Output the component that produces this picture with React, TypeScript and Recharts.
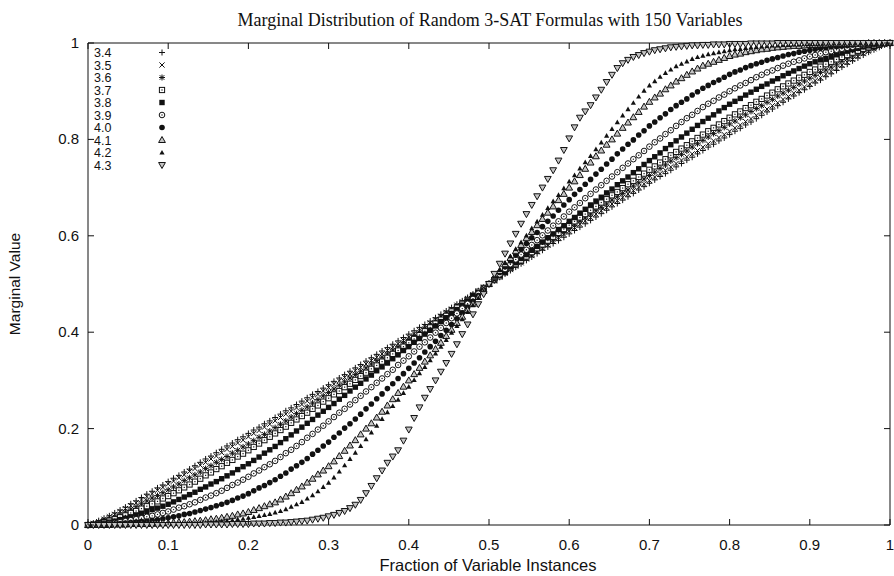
import React from "react";
import { ScatterChart, Scatter, XAxis, YAxis, ReferenceArea } from "recharts";

// clause/variable ratios, one series each
const ratios = ["3.4", "3.5", "3.6", "3.7", "3.8", "3.9", "4.0", "4.1", "4.2", "4.3"];

// sorted marginal values (x 1000), one point per 1/150 of the instances
const m34 = [0,4,9,14,19,25,31,37,44,50,57,64,70,77,83,90,97,103,110,116,123,130,137,143,150,157,164,170,177,183,190,197,203,210,216,223,230,237,243,250,257,264,271,277,284,291,298,305,312,319,326,333,340,347,354,361,368,375,382,389,396,403,410,416,423,430,437,444,451,458,465,472,479,486,493,500,
  507,514,521,528,535,542,549,556,563,570,577,584,590,597,604,611,618,625,632,639,646,653,660,667,674,681,688,695,702,709,716,723,729,736,743,750,757,763,770,777,784,790,797,803,810,817,823,830,836,843,850,857,863,870,877,884,890,897,903,910,917,923,930,936,943,950,956,963,969,975,981,986,991,996,1000];
const m35 = [0,3,7,12,17,22,28,34,40,46,52,59,65,72,78,85,91,98,104,111,117,124,130,137,143,150,157,163,170,176,183,190,196,203,209,216,223,230,236,243,250,257,264,271,278,285,292,299,306,313,320,327,334,341,348,355,362,369,376,383,390,397,404,412,419,426,433,441,448,456,463,470,478,485,493,500,
  507,515,522,530,537,544,552,559,567,574,581,588,596,603,610,617,624,631,638,645,652,659,666,673,680,687,694,701,708,715,722,729,736,743,750,757,764,770,777,784,791,797,804,810,817,824,830,837,843,850,857,863,870,876,883,889,896,902,909,915,922,928,935,941,948,954,960,966,972,978,983,988,993,997,1000];
const m36 = [0,2,5,8,12,17,22,27,33,38,44,50,56,61,67,73,79,85,92,98,104,110,117,123,130,136,142,149,155,162,168,175,182,188,195,202,209,216,224,231,238,245,253,260,268,275,282,290,297,305,312,319,326,334,341,348,355,363,370,378,385,393,400,408,415,423,431,438,446,453,461,469,477,484,492,500,
  508,516,523,531,539,547,554,562,569,577,585,592,600,607,615,622,630,637,645,652,659,666,674,681,688,695,703,710,718,725,732,740,747,755,762,769,776,784,791,798,805,812,818,825,832,838,845,851,858,864,870,877,883,890,896,902,908,915,921,927,933,939,944,950,956,962,967,973,978,983,988,992,995,998,1000];
const m37 = [0,1,3,6,9,12,16,20,25,29,34,39,44,49,55,60,66,72,78,84,90,96,103,109,116,122,129,135,142,148,155,162,169,176,183,190,197,204,212,219,226,233,241,248,256,263,271,278,286,293,301,309,316,324,331,339,347,355,362,370,378,386,394,402,410,418,426,434,443,451,459,467,475,484,492,500,
  508,516,525,533,541,549,557,566,574,582,590,598,606,614,622,630,638,645,653,661,669,676,684,691,699,707,714,722,729,737,744,752,759,767,774,781,788,796,803,810,817,824,831,838,845,852,858,865,871,878,884,891,897,904,910,916,922,928,934,940,945,951,956,961,966,971,975,980,984,988,991,994,997,999,1000];
const m38 = [0,1,2,4,6,8,11,14,17,21,24,28,32,35,39,43,48,53,58,63,68,74,79,85,90,96,102,108,115,121,127,134,141,149,156,163,171,179,187,195,203,211,219,228,236,244,252,261,269,278,286,294,303,311,320,328,336,345,353,362,370,379,387,396,404,413,422,430,439,447,456,465,474,482,491,500,
  509,518,526,535,544,553,561,570,578,587,596,604,613,621,630,638,647,655,664,672,680,689,697,706,714,722,731,739,748,756,764,772,781,789,797,805,813,821,829,837,844,851,859,866,873,879,885,892,898,904,910,915,921,926,932,937,942,947,952,957,961,965,968,972,976,979,983,986,989,992,994,996,998,999,1000];
const m39 = [0,0,1,2,3,4,6,8,10,12,14,17,19,22,25,28,32,36,39,43,47,52,57,61,66,71,77,83,88,94,100,107,113,120,126,133,141,149,156,164,172,181,189,198,206,215,224,233,241,250,259,268,277,286,295,304,313,322,332,341,350,360,370,379,389,399,409,419,429,439,449,459,469,480,490,500,
  510,520,531,541,551,561,571,581,591,601,611,621,630,640,650,659,668,678,687,696,705,714,723,732,741,750,759,767,776,785,794,802,811,819,828,836,844,851,859,867,874,880,887,893,900,906,912,917,923,929,934,939,943,948,953,957,961,964,968,972,975,978,981,983,986,988,990,992,994,996,997,998,999,1000,1000];
const m40 = [0,0,1,1,2,2,3,4,5,6,7,8,10,11,13,15,17,19,22,24,27,30,33,36,40,43,47,51,56,60,65,71,77,82,88,94,101,108,116,123,130,138,147,155,164,172,182,191,201,210,220,230,241,251,262,272,283,293,304,314,325,336,347,359,370,381,393,404,416,428,440,452,464,476,488,500,
  512,524,536,548,560,572,584,596,607,619,630,641,653,664,675,686,696,707,717,728,738,749,759,770,780,790,799,809,818,828,836,845,853,862,870,877,884,892,899,906,912,918,923,929,935,940,944,949,953,957,960,964,967,970,973,976,978,981,983,985,987,989,990,992,993,994,995,996,997,998,998,999,999,1000,1000];
const m41 = [0,0,0,0,0,1,1,1,2,2,2,2,3,3,4,4,5,6,6,7,8,9,10,12,13,15,17,19,22,24,27,31,35,39,43,47,53,59,66,73,80,88,96,105,113,122,132,143,154,165,176,188,200,211,223,235,248,261,274,287,300,313,326,339,352,365,378,392,405,419,432,446,459,473,486,500,
  514,527,541,554,568,581,595,608,622,635,648,661,674,687,700,713,726,739,752,765,777,789,800,812,824,835,846,857,868,878,887,895,904,912,920,927,934,941,947,953,957,961,965,969,973,976,978,981,983,985,987,988,990,991,992,993,994,994,995,996,996,997,997,998,998,998,998,999,999,999,1000,1000,1000,1000,1000];
const m42 = [0,0,0,0,0,0,0,0,1,1,1,1,1,2,2,2,2,3,3,4,4,5,5,6,7,8,9,10,12,13,15,17,19,21,23,26,29,33,38,43,48,55,62,70,79,88,99,111,124,137,150,164,178,192,206,220,234,247,260,274,287,301,315,328,342,356,370,384,399,413,427,442,456,471,485,500,
  515,529,544,558,573,587,601,616,630,644,658,672,685,699,713,726,740,753,766,780,794,808,822,836,850,863,876,889,901,912,921,930,938,945,952,957,962,967,971,974,977,979,981,983,985,987,988,990,991,992,993,994,995,995,996,996,997,997,998,998,998,998,999,999,999,999,999,1000,1000,1000,1000,1000,1000,1000,1000];
const m43 = [0,0,0,0,0,0,0,0,0,0,0,0,0,0,0,0,0,0,0,0,0,0,1,1,1,1,1,2,2,2,2,3,3,3,4,4,5,5,6,7,8,9,11,13,15,18,21,25,29,35,42,52,66,81,97,113,129,142,155,175,198,222,244,264,282,300,318,336,355,375,396,416,437,458,479,500,
  521,542,563,584,604,625,645,664,682,700,718,736,756,778,802,825,845,858,871,887,903,919,934,948,958,965,971,975,979,982,985,987,989,991,992,993,994,995,995,996,996,997,997,997,998,998,998,998,999,999,999,999,999,1000,1000,1000,1000,1000,1000,1000,1000,1000,1000,1000,1000,1000,1000,1000,1000,1000,1000,1000,1000,1000,1000];

const seriesValues = [m34, m35, m36, m37, m38, m39, m40, m41, m42, m43];

const xTicks = [0, 0.1, 0.2, 0.3, 0.4, 0.5, 0.6, 0.7, 0.8, 0.9, 1];
const xTickLabels = ["0", "0.1", "0.2", "0.3", "0.4", "0.5", "0.6", "0.7", "0.8", "0.9", "1"];
const yTicks = [0, 0.2, 0.4, 0.6, 0.8, 1];
const yTickLabels = ["0", "0.2", "0.4", "0.6", "0.8", "1"];

const W = 894;
const H = 576;
const PLOT = { left: 88, right: 890, top: 43, bottom: 525 };
const TICK = 6;
const SANS = "'Liberation Sans', Arial, Helvetica, sans-serif";
const SERIF = "'Liberation Serif', 'Times New Roman', serif";
const INK = "#111";

type Kind = "plus" | "cross" | "star" | "boxdot" | "box" | "circledot" | "disc" | "tri" | "trifill" | "tridown";
const kinds: Kind[] = ["plus", "cross", "star", "boxdot", "box", "circledot", "disc", "tri", "trifill", "tridown"];

function Marker({ kind, cx, cy }: { kind: Kind; cx: number; cy: number }) {
  if (cx == null || cy == null) return null;
  switch (kind) {
    case "plus":
      return <path d={`M${cx - 3},${cy}h6M${cx},${cy - 3}v6`} stroke={INK} strokeWidth={1} />;
    case "cross":
      return <path d={`M${cx - 2.6},${cy - 2.6}l5.2,5.2M${cx - 2.6},${cy + 2.6}l5.2,-5.2`} stroke={INK} strokeWidth={1} />;
    case "star":
      return (
        <path
          d={`M${cx - 3},${cy}h6M${cx},${cy - 3}v6M${cx - 2.3},${cy - 2.3}l4.6,4.6M${cx - 2.3},${cy + 2.3}l4.6,-4.6`}
          stroke={INK}
          strokeWidth={1}
        />
      );
    case "boxdot":
      return (
        <g>
          <rect x={cx - 2.6} y={cy - 2.6} width={5.2} height={5.2} fill="#fff" stroke={INK} strokeWidth={1} />
          <rect x={cx - 0.6} y={cy - 0.6} width={1.2} height={1.2} fill={INK} />
        </g>
      );
    case "box":
      return <rect x={cx - 2.7} y={cy - 2.7} width={5.4} height={5.4} fill={INK} />;
    case "circledot":
      return (
        <g>
          <circle cx={cx} cy={cy} r={2.8} fill="#fff" stroke={INK} strokeWidth={1} />
          <circle cx={cx} cy={cy} r={0.7} fill={INK} />
        </g>
      );
    case "disc":
      return <circle cx={cx} cy={cy} r={2.8} fill={INK} />;
    case "tri":
      return (
        <path d={`M${cx},${cy - 3.5}L${cx + 3.4},${cy + 2.5}L${cx - 3.4},${cy + 2.5}Z`} fill="#c4c4c4" stroke={INK} strokeWidth={1} />
      );
    case "trifill":
      return <path d={`M${cx},${cy - 2.6}L${cx + 2.6},${cy + 2.1}L${cx - 2.6},${cy + 2.1}Z`} fill={INK} />;
    case "tridown":
      return (
        <path d={`M${cx},${cy + 3.5}L${cx + 3.4},${cy - 2.5}L${cx - 3.4},${cy - 2.5}Z`} fill="#c4c4c4" stroke={INK} strokeWidth={1} />
      );
  }
  return null;
}

function XTick(props: any) {
  const { x, payload } = props;
  const i = xTicks.indexOf(payload.value);
  return (
    <g>
      <line x1={x} x2={x} y1={PLOT.bottom} y2={PLOT.bottom - TICK} stroke={INK} />
      <line x1={x} x2={x} y1={PLOT.top} y2={PLOT.top + TICK} stroke={INK} />
      <text x={x} y={PLOT.bottom + 25} textAnchor="middle" fontFamily={SANS} fontSize={15} fill={INK}>
        {i >= 0 ? xTickLabels[i] : String(payload.value)}
      </text>
    </g>
  );
}

function YTick(props: any) {
  const { y, payload } = props;
  const i = yTicks.indexOf(payload.value);
  return (
    <g>
      <line x1={PLOT.left} x2={PLOT.left + TICK} y1={y} y2={y} stroke={INK} />
      <line x1={PLOT.right} x2={PLOT.right - TICK} y1={y} y2={y} stroke={INK} />
      <text x={79} y={y + 5} textAnchor="end" fontFamily={SANS} fontSize={15} fill={INK}>
        {i >= 0 ? yTickLabels[i] : String(payload.value)}
      </text>
    </g>
  );
}

function LegendBox() {
  return (
    <svg width={100} height={140} style={{ position: "absolute", left: 90, top: 46, overflow: "visible" }}>
      {ratios.map((r, k) => (
        <g key={r}>
          <text x={4} y={11 + k * 12.5} fontFamily={SANS} fontSize={12.5} fill={INK}>
            {r}
          </text>
          <Marker kind={kinds[k]} cx={72} cy={6.5 + k * 12.5} />
        </g>
      ))}
    </svg>
  );
}

export default function App() {
  const series = seriesValues.map((vals) => vals.map((v, i) => ({ x: i / (vals.length - 1), y: v / 1000 })));

  return (
    <div style={{ position: "absolute", left: 0, top: 0, width: W, height: H, background: "#fff" }}>
      <div
        style={{
          position: "absolute",
          left: 0,
          width: 980,
          top: 10,
          textAlign: "center",
          fontFamily: SERIF,
          fontSize: 18,
          color: INK,
          lineHeight: "21px",
        }}
      >
        Marginal Distribution of Random 3-SAT Formulas with 150 Variables
      </div>
      <ScatterChart width={W} height={H} margin={{ top: PLOT.top, right: W - PLOT.right, bottom: 0, left: 0 }}>
        <XAxis
          type="number"
          dataKey="x"
          domain={[0, 1]}
          ticks={xTicks}
          interval={0}
          tick={<XTick />}
          tickLine={false}
          axisLine={false}
          height={H - PLOT.bottom}
          label={{
            content: () => (
              <text x={488} y={571} textAnchor="middle" fontFamily={SANS} fontSize={16.5} fill={INK}>
                Fraction of Variable Instances
              </text>
            ),
          }}
        />
        <YAxis
          type="number"
          dataKey="y"
          domain={[0, 1]}
          ticks={yTicks}
          interval={0}
          tick={<YTick />}
          tickLine={false}
          axisLine={false}
          width={PLOT.left}
          label={{
            content: () => (
              <text
                x={20}
                y={284}
                transform="rotate(-90 20 284)"
                textAnchor="middle"
                fontFamily={SANS}
                fontSize={15.5}
                fill={INK}
              >
                Marginal Value
              </text>
            ),
          }}
        />
        <ReferenceArea x1={0} x2={1} y1={0} y2={1} fill="none" stroke={INK} strokeWidth={1} ifOverflow="visible" />
        {series.map((data, k) => (
          <Scatter
            key={ratios[k]}
            name={ratios[k]}
            data={data}
            isAnimationActive={false}
            shape={(p: any) => <Marker kind={kinds[k]} cx={p.cx} cy={p.cy} />}
          />
        ))}
      </ScatterChart>
      <LegendBox />
    </div>
  );
}
